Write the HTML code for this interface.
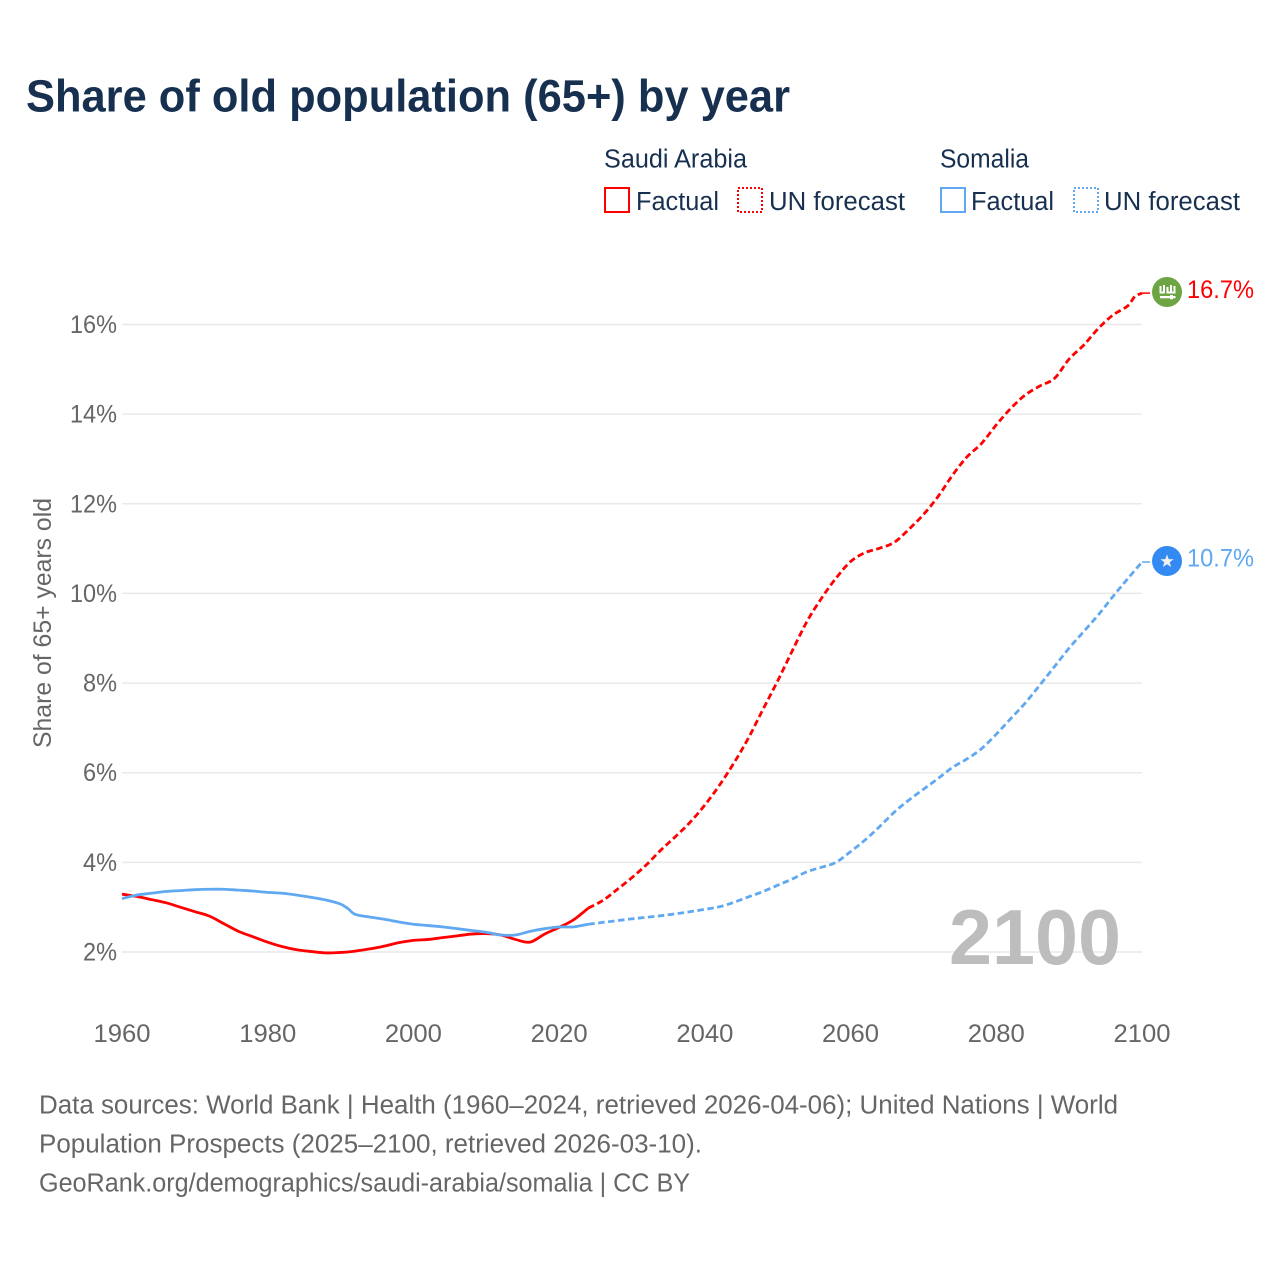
<!DOCTYPE html>
<html lang="en">
<head>
<meta charset="utf-8">
<title>Share of old population (65+) by year</title>
<style>
html,body{margin:0;padding:0;background:#fff;}
svg{display:block;font-family:"Liberation Sans",sans-serif;}
</style>
</head>
<body>
<svg id="chart" xmlns="http://www.w3.org/2000/svg" width="1280" height="1280" viewBox="0 0 1280 1280">
  <rect x="0" y="0" width="1280" height="1280" fill="#fff"/>
  <text x="26" y="111.5" font-size="45" font-weight="700" fill="#17304f" textLength="764" lengthAdjust="spacingAndGlyphs">Share of old population (65+) by year</text>

  <g font-size="25.5" fill="#17304f">
    <text x="604" y="167.5" textLength="143" lengthAdjust="spacingAndGlyphs">Saudi Arabia</text>
    <text x="940" y="167.5" textLength="89" lengthAdjust="spacingAndGlyphs">Somalia</text>
    <g>
      <rect x="605" y="188" width="24" height="24" fill="none" stroke="#ff0000" stroke-width="2"/>
      <text x="636" y="210" textLength="83" lengthAdjust="spacingAndGlyphs">Factual</text>
    </g>
    <g>
      <rect x="738" y="188" width="24" height="24" fill="none" stroke="#ff0000" stroke-width="2" stroke-dasharray="2 2"/>
      <text x="769" y="210" textLength="136" lengthAdjust="spacingAndGlyphs">UN forecast</text>
    </g>
    <g>
      <rect x="941" y="188" width="24" height="24" fill="none" stroke="#60a8f0" stroke-width="2"/>
      <text x="971" y="210" textLength="83" lengthAdjust="spacingAndGlyphs">Factual</text>
    </g>
    <g>
      <rect x="1074" y="188" width="24" height="24" fill="none" stroke="#60a8f0" stroke-width="2" stroke-dasharray="2 2"/>
      <text x="1104" y="210" textLength="136" lengthAdjust="spacingAndGlyphs">UN forecast</text>
    </g>
  </g>

  <g id="grid"></g>
  <g id="yticks" font-size="25" fill="#666" text-anchor="end"></g>
  <g id="xticks" font-size="25" fill="#666" text-anchor="middle"></g>
  <text transform="translate(51,623) rotate(-90)" font-size="25" fill="#666" text-anchor="middle" textLength="250" lengthAdjust="spacingAndGlyphs">Share of 65+ years old</text>
  <text x="949" y="964" font-size="78" font-weight="700" fill="#bdbdbd" textLength="172" lengthAdjust="spacingAndGlyphs">2100</text>

  <g id="series"></g>

  <g>
    <circle cx="1167" cy="292" r="15" fill="#6da544"/>
    <g fill="#fff">
      <rect x="1159.5" y="286" width="2" height="7"/>
      <rect x="1163" y="285" width="2" height="8"/>
      <rect x="1166.5" y="287" width="2" height="6"/>
      <rect x="1170" y="285" width="2" height="8"/>
      <rect x="1173.5" y="286" width="2" height="7"/>
      <rect x="1159.5" y="291.5" width="5" height="2"/>
      <rect x="1166.5" y="291.5" width="9" height="2"/>
      <path d="M1160 296h10v-1h3v1h2.5v2.2h-2.500v1h-3v-1h-10z"/>
    </g>
  </g>
  <g>
    <circle cx="1167" cy="561" r="15" fill="#338af3"/>
    <path fill="#f0f0f0" d="M1167 554.500l1.700 4.600 4.900.2-3.900 3 1.400 4.700-4.100-2.700-4.100 2.700 1.400-4.700-3.900-3 4.900-.2z"/>
  </g>
  <text x="1187" y="298" font-size="25" fill="#ff0000" textLength="67" lengthAdjust="spacingAndGlyphs">16.7%</text>
  <text x="1187" y="566.500" font-size="25" fill="#60a8f0" textLength="67" lengthAdjust="spacingAndGlyphs">10.7%</text>

  <g font-size="25.5" fill="#666">
    <text x="39" y="1113.500" textLength="1079" lengthAdjust="spacingAndGlyphs">Data sources: World Bank | Health (1960–2024, retrieved 2026-04-06); United Nations | World</text>
    <text x="39" y="1152.500" textLength="663" lengthAdjust="spacingAndGlyphs">Population Prospects (2025–2100, retrieved 2026-03-10).</text>
    <text x="39" y="1191.500" textLength="651" lengthAdjust="spacingAndGlyphs">GeoRank.org/demographics/saudi-arabia/somalia | CC BY</text>
  </g>
</svg>
<script>
const xTickYears = [1960, 1980, 2000, 2020, 2040, 2060, 2080, 2100];
const yTickValues = [2, 4, 6, 8, 10, 12, 14, 16];
const yTickLabels = ["2%", "4%", "6%", "8%", "10%", "12%", "14%", "16%"];

const factualYears = [1960,1962,1964,1966,1968,1970,1972,1974,1976,1978,1980,1982,1984,1986,1988,1990,1991,1992,1994,1996,1998,2000,2002,2004,2006,2008,2010,2012,2014,2016,2018,2020,2022,2024];
const saudiFactual = [3.29,3.24,3.17,3.10,3.00,2.90,2.80,2.63,2.46,2.34,2.22,2.12,2.05,2.01,1.98,1.99,2.00,2.02,2.07,2.13,2.21,2.26,2.28,2.32,2.36,2.40,2.41,2.38,2.28,2.22,2.40,2.55,2.72,2.98];
const somaliaFactual = [3.19,3.27,3.31,3.35,3.37,3.39,3.40,3.40,3.38,3.36,3.33,3.31,3.27,3.22,3.16,3.07,2.97,2.84,2.78,2.73,2.67,2.62,2.59,2.56,2.52,2.48,2.44,2.38,2.38,2.46,2.52,2.56,2.56,2.62];

const saudiForecastYears = [2024,2026,2028,2030,2032,2034,2036,2038,2040,2042,2044,2046,2048,2050,2052,2054,2056,2058,2060,2062,2064,2066,2068,2070,2072,2074,2076,2078,2080,2082,2084,2086,2088,2090,2092,2094,2096,2098,2099,2100];
const saudiForecast = [2.98,3.15,3.40,3.66,3.95,4.28,4.58,4.90,5.28,5.72,6.22,6.78,7.42,8.05,8.72,9.37,9.89,10.34,10.71,10.91,11.01,11.14,11.43,11.76,12.16,12.64,13.05,13.35,13.76,14.13,14.43,14.63,14.80,15.23,15.54,15.91,16.21,16.41,16.62,16.70];

const somaliaForecastYears = [2024,2026,2030,2034,2038,2042,2044,2046,2048,2050,2052,2054,2056,2058,2060,2062,2064,2066,2068,2070,2072,2074,2076,2078,2080,2082,2084,2086,2088,2090,2092,2094,2096,2098,2100];
const somaliaForecast = [2.62,2.66,2.74,2.81,2.90,3.01,3.11,3.23,3.35,3.49,3.63,3.79,3.89,4.00,4.24,4.50,4.80,5.12,5.39,5.63,5.87,6.12,6.31,6.54,6.86,7.21,7.56,7.96,8.37,8.78,9.15,9.52,9.93,10.32,10.70];

const SVG_NS = "http://www.w3.org/2000/svg";
const xScale = function (year) { return 122 + (year - 1960) * (1020 / 140); };
const yScale = function (value) { return 952 - (value - 2) * (627.5 / 14); };

const gridGroup = document.getElementById("grid");
const yTickGroup = document.getElementById("yticks");
const xTickGroup = document.getElementById("xticks");
const seriesGroup = document.getElementById("series");

yTickValues.forEach(function (value, i) {
  const line = document.createElementNS(SVG_NS, "line");
  line.setAttribute("x1", 122);
  line.setAttribute("x2", 1142);
  line.setAttribute("y1", yScale(value));
  line.setAttribute("y2", yScale(value));
  line.setAttribute("stroke", "#e9e9e9");
  line.setAttribute("stroke-width", "1.5");
  
  
  gridGroup.appendChild(line);

  const label = document.createElementNS(SVG_NS, "text");
  label.setAttribute("x", 117);
  label.setAttribute("y", yScale(value) + 8.5);
  label.setAttribute("textLength", value >= 10 ? 47 : 34);
  label.setAttribute("lengthAdjust", "spacingAndGlyphs");
  label.textContent = yTickLabels[i];
  
  
  yTickGroup.appendChild(label);
});

xTickYears.forEach(function (year) {
  const label = document.createElementNS(SVG_NS, "text");
  label.setAttribute("x", xScale(year));
  label.setAttribute("y", 1042);
  label.setAttribute("textLength", 57);
  label.setAttribute("lengthAdjust", "spacingAndGlyphs");
  label.textContent = String(year);
  
  
  xTickGroup.appendChild(label);
});

function pathFor(years, values) {
  const px = years.map(xScale);
  const py = values.map(yScale);
  const n = px.length;
  let d = "M" + px[0].toFixed(2) + " " + py[0].toFixed(2);
  for (let i = 0; i < n - 1; i++) {
    const a = Math.max(i - 1, 0);
    const b = Math.min(i + 2, n - 1);
    const c1x = px[i] + (px[i + 1] - px[a]) / 6;
    const c1y = py[i] + (py[i + 1] - py[a]) / 6;
    const c2x = px[i + 1] - (px[b] - px[i]) / 6;
    const c2y = py[i + 1] - (py[b] - py[i]) / 6;
    d += " C" + c1x.toFixed(2) + " " + c1y.toFixed(2) + " " + c2x.toFixed(2) + " " + c2y.toFixed(2) + " " + px[i + 1].toFixed(2) + " " + py[i + 1].toFixed(2);
  }
  return d;
}

function drawLine(years, values, color, dashed, name) {
  const path = document.createElementNS(SVG_NS, "path");
  path.setAttribute("d", pathFor(years, values));
  path.setAttribute("fill", "none");
  path.setAttribute("stroke", color);
  path.setAttribute("stroke-width", "2.8");
  path.setAttribute("stroke-linejoin", "round");
  if (dashed) {
    path.setAttribute("stroke-dasharray", "6.5 3.5");
  }
  
  
  seriesGroup.appendChild(path);
}

function drawConnector(lastValue, color, name) {
  const line = document.createElementNS(SVG_NS, "line");
  line.setAttribute("x1", xScale(2100));
  line.setAttribute("x2", 1150);
  line.setAttribute("y1", yScale(lastValue));
  line.setAttribute("y2", yScale(lastValue));
  line.setAttribute("stroke", color);
  line.setAttribute("stroke-width", "1.5");
  
  
  seriesGroup.appendChild(line);
}

drawLine(saudiForecastYears, saudiForecast, "#ff0000", true, "saudi-arabia-forecast-line");
drawLine(factualYears, saudiFactual, "#ff0000", false, "saudi-arabia-factual-line");
drawLine(somaliaForecastYears, somaliaForecast, "#60a8f0", true, "somalia-forecast-line");
drawLine(factualYears, somaliaFactual, "#60a8f0", false, "somalia-factual-line");
drawConnector(saudiForecast[saudiForecast.length - 1], "#ff0000", "saudi-arabia-end-connector");
drawConnector(somaliaForecast[somaliaForecast.length - 1], "#60a8f0", "somalia-end-connector");
</script>
</body>
</html>
